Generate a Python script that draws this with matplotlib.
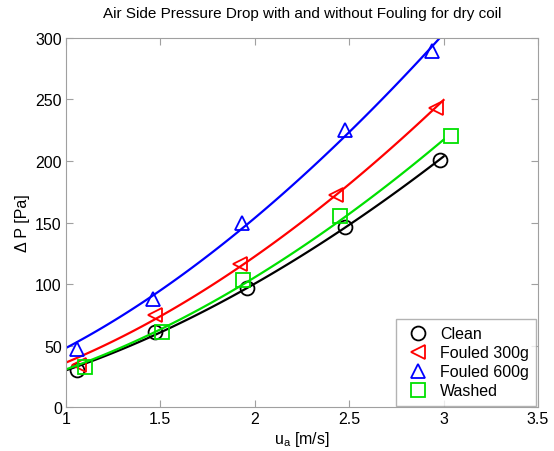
"""Air side pressure drop with and without fouling, dry coil."""

import matplotlib
matplotlib.use("Agg")
import matplotlib.pyplot as plt
import numpy as np

plt.rcParams["font.family"] = ["Liberation Sans", "DejaVu Sans"]

u_clean = [1.06, 1.47, 1.96, 2.48, 2.98]
dp_clean = [30, 61, 97, 146, 201]
u_foul300 = [1.07, 1.47, 1.92, 2.43, 2.96]
dp_foul300 = [34, 75, 116, 172, 243]
u_foul600 = [1.06, 1.46, 1.93, 2.48, 2.94]
dp_foul600 = [47, 88, 150, 225, 289]
u_washed = [1.10, 1.51, 1.94, 2.45, 3.04]
dp_washed = [33, 61, 103, 155, 220]

labels = ["Clean", "Fouled 300g", "Fouled 600g", "Washed"]
colors = ["black", "red", "blue", "#00e000"]
markers = ["o", "<", "^", "s"]

series = [
    (u_clean, dp_clean),
    (u_foul300, dp_foul300),
    (u_foul600, dp_foul600),
    (u_washed, dp_washed),
]


def power_fit(u, dp):
    """Least squares fit of dp = a * u^b in linear space (scan over b)."""
    u = np.asarray(u, dtype=float)
    dp = np.asarray(dp, dtype=float)
    best = None
    for b in np.arange(1.0, 2.5, 0.001):
        ub = u ** b
        a = np.sum(dp * ub) / np.sum(ub * ub)
        err = np.sum((dp - a * ub) ** 2)
        if best is None or err < best[0]:
            best = (err, a, b)
    return best[1], best[2]


fig = plt.figure(figsize=(5.54, 4.52), dpi=100)
ax = fig.add_axes([0.119, 0.097, 0.852, 0.817])

u_fit = np.linspace(1.0, 3.0, 100)
for (u, dp), label, color, marker in zip(series, labels, colors, markers):
    a, b = power_fit(u, dp)
    ax.plot(u_fit, a * u_fit ** b, color=color, linewidth=1.6)
    ax.plot(u, dp, linestyle="none", marker=marker, markersize=10,
            markerfacecolor="none", markeredgecolor=color, markeredgewidth=1.3,
            label=label)

ax.set_xlim(1, 3.5)
ax.set_ylim(0, 300)
ax.set_xticks([1, 1.5, 2, 2.5, 3, 3.5])
ax.set_xticklabels(["1", "1.5", "2", "2.5", "3", "3.5"])
ax.set_yticks(range(0, 301, 50))
ax.tick_params(direction="in", top=True, right=True, length=5,
               color="#a0a0a0", labelsize=11.5, pad=3)
for spine in ax.spines.values():
    spine.set_color("#a0a0a0")

ax.set_xlabel("u$_\\mathregular{a}$ [m/s]", fontsize=11.5, labelpad=2)
ax.set_ylabel("\u0394 P [Pa]", fontsize=11.5, labelpad=4)
ax.set_title("Air Side Pressure Drop with and without Fouling for dry coil",
             fontsize=11, pad=15)

leg = ax.legend(loc="lower right", fontsize=11.5, fancybox=False,
                handletextpad=0.5, borderaxespad=0.1, labelspacing=0.25,
                handlelength=1.8, borderpad=0.45)
leg.get_frame().set_edgecolor("#a0a0a0")
leg.get_frame().set_linewidth(1.0)

fig.savefig("out.png", dpi=100)
